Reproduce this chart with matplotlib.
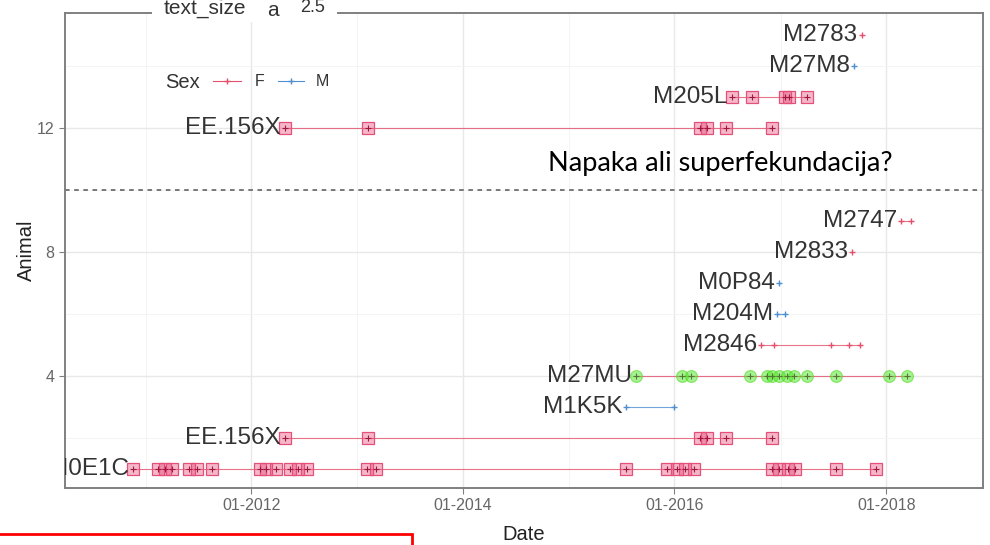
import matplotlib
matplotlib.use('Agg')
import matplotlib.pyplot as plt
import matplotlib.dates as mdates
from matplotlib.lines import Line2D
from matplotlib.patches import Rectangle
import pandas as pd

# one row per animal, bottom to top
animals = ['M0E1C', 'EE.156X', 'M1K5K', 'M27MU', 'M2846', 'M204M', 'M0P84',
           'M2833', 'M2747', 'EE.156X', 'M205L', 'M27M8', 'M2783']
rows = [1, 2, 3, 4, 5, 6, 7, 8, 9, 12, 13, 14, 15]
sex = ['F', 'F', 'M', 'F', 'F', 'M', 'M', 'F', 'F', 'F', 'F', 'M', 'F']
kind = ['box', 'box', 'plus', 'ring', 'plus', 'plus', 'plus',
        'plus', 'plus', 'box', 'box', 'plus', 'plus']
dates = [
    ['2010-11-20', '2011-02-14', '2011-03-10', '2011-04-01', '2011-05-30', '2011-06-28',
     '2011-08-18', '2012-01-30', '2012-02-21', '2012-03-28', '2012-05-15', '2012-06-10',
     '2012-07-12', '2013-02-03', '2013-03-08', '2015-07-19', '2015-12-05', '2016-01-08',
     '2016-02-06', '2016-03-10', '2016-12-02', '2016-12-28', '2017-01-26', '2017-02-21',
     '2017-07-13', '2017-11-28'],
    ['2012-04-27', '2013-02-06', '2016-03-28', '2016-04-23', '2016-06-28', '2016-12-02'],
    ['2015-07-19', '2016-01-01'],
    ['2015-08-22', '2016-01-26', '2016-02-28', '2016-09-16', '2016-11-14', '2016-12-02',
     '2016-12-28', '2017-01-23', '2017-02-18', '2017-04-02', '2017-07-13', '2018-01-12',
     '2018-03-15'],
    ['2016-10-27', '2016-12-09', '2017-06-25', '2017-08-26', '2017-10-01'],
    ['2016-12-20', '2017-01-15'],
    ['2016-12-28'],
    ['2017-09-06'],
    ['2018-02-21', '2018-03-29'],
    ['2012-04-27', '2013-02-06', '2016-03-28', '2016-04-23', '2016-06-28', '2016-12-02'],
    ['2016-07-16', '2016-09-24', '2017-01-15', '2017-01-30', '2017-04-02'],
    ['2017-09-13'],
    ['2017-10-08'],
]
x_range = ['2010-03-29', '2018-12-01']
x_breaks = ['2012-01-01', '2014-01-01', '2016-01-01', '2018-01-01']
x_minor = ['2011-01-01', '2013-01-01', '2015-01-01', '2017-01-01']
y_breaks = [4, 8, 12]
y_minor = [2, 6, 10, 14]
cut_row = 10
note = 'Napaka ali superfekundacija?'

sex_colors = {'F': '#e4506c', 'M': '#4f8fd0'}
W, H = 990, 545

fig = plt.figure(figsize=(W / 100, H / 100), dpi=100)
ax = fig.add_axes([65 / W, 1 - 488 / H, (983 - 65) / W, (488 - 13) / H])


def px(x, y):
    return x / W, 1 - y / H


# grid
for d in pd.to_datetime(x_minor):
    ax.axvline(d, color='#f3f3f3', lw=0.6, zorder=0)
for d in pd.to_datetime(x_breaks):
    ax.axvline(d, color='#e8e8e8', lw=1.0, zorder=0)
for v in y_minor:
    ax.axhline(v, color='#f3f3f3', lw=0.6, zorder=0)
for v in y_breaks:
    ax.axhline(v, color='#e8e8e8', lw=1.0, zorder=0)

for name, r, s, k, ds in zip(animals, rows, sex, kind, dates):
    d = pd.to_datetime(ds)
    c = sex_colors[s]
    yy = [r] * len(d)
    ax.plot(d, yy, color=c, lw=0.8, alpha=0.8, zorder=2)
    if k == 'box':
        ax.plot(d, yy, ls='none', marker='s', ms=8.5, mfc=(0.9, 0.3, 0.48, 0.4),
                mec='#e4507a', mew=0.9, zorder=3)
        ax.plot(d, yy, ls='none', marker='+', ms=4, mec='#a01840', mew=0.8, zorder=4)
    elif k == 'ring':
        ax.plot(d, yy, ls='none', marker='o', ms=8.5, mfc=(0.3, 0.9, 0.15, 0.5),
                mec=(0.3, 0.85, 0.1, 0.6), mew=0.8, zorder=3)
        ax.plot(d, yy, ls='none', marker='+', ms=4, mec='#557733', mew=0.8, zorder=4)
    else:
        ax.plot(d, yy, ls='none', marker='+', ms=4, mec=c, mew=1.0, zorder=3)
    ax.annotate(name, (d[0], r), xytext=(-3, 0), textcoords='offset points',
                ha='right', va='center', fontsize=17.5, color='#333333',
                family='Liberation Sans', annotation_clip=False, clip_on=True, zorder=5)

ax.axhline(cut_row, color='#555555', lw=1.1, ls=(0, (3, 3)), zorder=2)

ax.set_xlim(pd.to_datetime(x_range[0]), pd.to_datetime(x_range[1]))
ax.set_ylim(0.4, 15.7)
ax.set_xticks(pd.to_datetime(x_breaks))
ax.xaxis.set_major_formatter(mdates.DateFormatter('%m-%Y'))
ax.set_yticks(y_breaks)
ax.tick_params(colors='#808080', labelcolor='#666666', labelsize=11.5, length=4, width=0.8)
for lab in ax.get_xticklabels() + ax.get_yticklabels():
    lab.set_family('Liberation Sans')
for sp in ax.spines.values():
    sp.set_color('#808080')
    sp.set_linewidth(1.4)
ax.set_xlabel('Date', fontsize=14.5, color='#222222', family='Liberation Sans', labelpad=8)
ax.set_ylabel('Animal', fontsize=14.5, color='#222222', family='Liberation Sans', labelpad=1)

# annotation added on top of the chart
fig.text(*px(548, 163), note, fontsize=19.5, family='Lato', color='black', va='center')

# Sex legend inside panel
fig.text(*px(165, 82), 'Sex', fontsize=14.5, color='#333333', family='Liberation Sans', va='center')
for x0, x1, s, tx in [(213, 241, 'F', 255), (278, 304, 'M', 316)]:
    fx0, fy = px(x0, 81)
    fx1, _ = px(x1, 81)
    fig.add_artist(Line2D([fx0, fx1], [fy, fy], color=sex_colors[s], lw=0.8))
    fig.add_artist(Line2D([(fx0 + fx1) / 2], [fy], ls='none', marker='+', ms=4,
                          mec=sex_colors[s], mew=1.0))
    fig.text(*px(tx, 82), s, fontsize=11.5, color='#333333', family='Liberation Sans',
             va='center')

# text_size legend sitting over the top border
fig.add_artist(Rectangle(px(152, 22), (337 - 152) / W, 22 / H, transform=fig.transFigure,
                         facecolor='white', edgecolor='none', zorder=10))
fig.text(*px(164, 8), 'text_size', fontsize=15, color='#333333', family='Liberation Sans',
         va='center', zorder=11)
fig.text(*px(273, 10), 'a', fontsize=15, color='#333333', family='Liberation Sans',
         va='center', ha='center', zorder=11)
fig.text(*px(313, 8), '2.5', fontsize=13, color='#333333', family='Liberation Sans',
         va='center', ha='center', zorder=11)

# red frame at bottom left
fig.add_artist(Rectangle(px(-5, 575), 417 / W, 41 / H, transform=fig.transFigure,
                         facecolor='none', edgecolor='#ff0000', lw=2, clip_on=False))

fig.savefig('out.png', dpi=100)
